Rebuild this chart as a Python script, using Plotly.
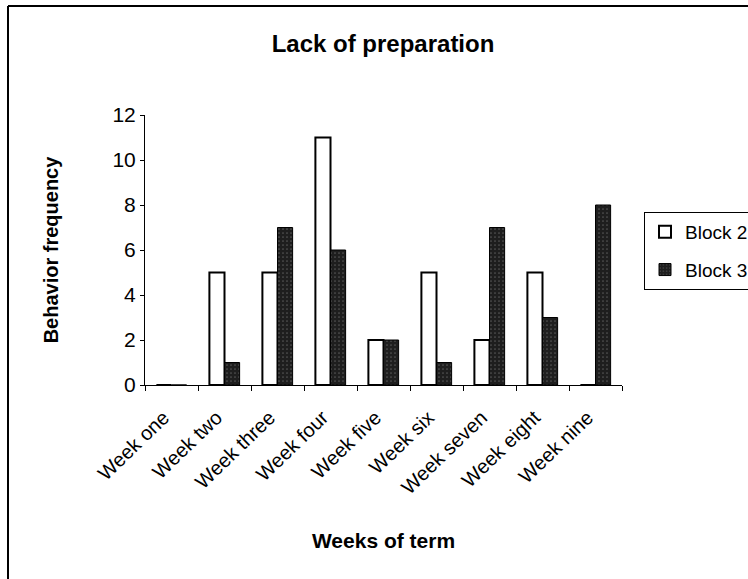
import plotly.graph_objects as go

weeks = ["Week one", "Week two", "Week three", "Week four", "Week five",
         "Week six", "Week seven", "Week eight", "Week nine"]
block2 = [0, 5, 5, 11, 2, 5, 2, 5, 0]
block3 = [0, 1, 7, 6, 2, 1, 7, 3, 8]
y_ticks = [0, 2, 4, 6, 8, 10, 12]

W, H = 748, 579
L, R, T, B = 145, 126, 115, 194
pw, ph = W - L - R, H - T - B

def px2x(px):
    return (px - L) / pw

def px2y(py):
    return (H - B - py) / ph

fig = go.Figure()
fig.add_trace(go.Bar(
    x=weeks, y=block2, name="Block 2", legendgroup="b2",
    marker=dict(color="white", line=dict(color="black", width=2)),
))
fig.add_trace(go.Bar(
    x=weeks, y=block3, name="Block 3", legendgroup="b3",
    marker=dict(color="#1e1e1e", line=dict(color="black", width=1),
                pattern=dict(shape=".", bgcolor="#1e1e1e", fgcolor="#8a8a8a",
                             size=4, solidity=0.15)),
))

font = "Liberation Sans, Arial, sans-serif"
fig.update_layout(
    width=W, height=H,
    margin=dict(l=L, r=R, t=T, b=B, autoexpand=False),
    paper_bgcolor="white", plot_bgcolor="white",
    barmode="group", bargap=0.43, bargroupgap=0,
    font=dict(family=font, color="black"),
    title=dict(text="<b>Lack of preparation</b>", x=(383 / W), xanchor="center",
               y=1 - 44 / H, yanchor="middle", font=dict(size=24, family=font)),
    showlegend=True,
    legend=dict(x=px2x(644), y=px2y(212), xanchor="left", yanchor="top",
                bordercolor="black", borderwidth=1, bgcolor="white",
                font=dict(size=19, family=font), traceorder="grouped",
                tracegroupgap=10, itemwidth=30),
    xaxis=dict(
        type="category", showline=True, linecolor="black", linewidth=1,
        ticks="outside", tickson="boundaries", ticklen=5, tickcolor="black",
        tickangle=-44, tickfont=dict(size=20, family=font),
        ticklabelstandoff=12, ticklabelshift=-8,
        title=dict(text="<b>Weeks of term</b>", font=dict(size=21, family=font),
                   standoff=36),
        showgrid=False, zeroline=False,
    ),
    yaxis=dict(
        range=[0, 12], tickvals=y_ticks, showline=True, linecolor="black",
        linewidth=1, ticks="outside", ticklen=4, tickcolor="black",
        tickfont=dict(size=21, family=font), showgrid=False, zeroline=False,
        title=dict(text="<b>Behavior frequency</b>", font=dict(size=20, family=font),
                   standoff=48),
    ),
    shapes=[
        dict(type="line", xref="paper", yref="paper",
             x0=px2x(8), x1=px2x(8), y0=px2y(579), y1=px2y(6),
             line=dict(color="black", width=2)),
        dict(type="line", xref="paper", yref="paper",
             x0=px2x(8), x1=px2x(748), y0=px2y(6), y1=px2y(6),
             line=dict(color="black", width=2)),
    ],
)

fig.write_html("out.html")
